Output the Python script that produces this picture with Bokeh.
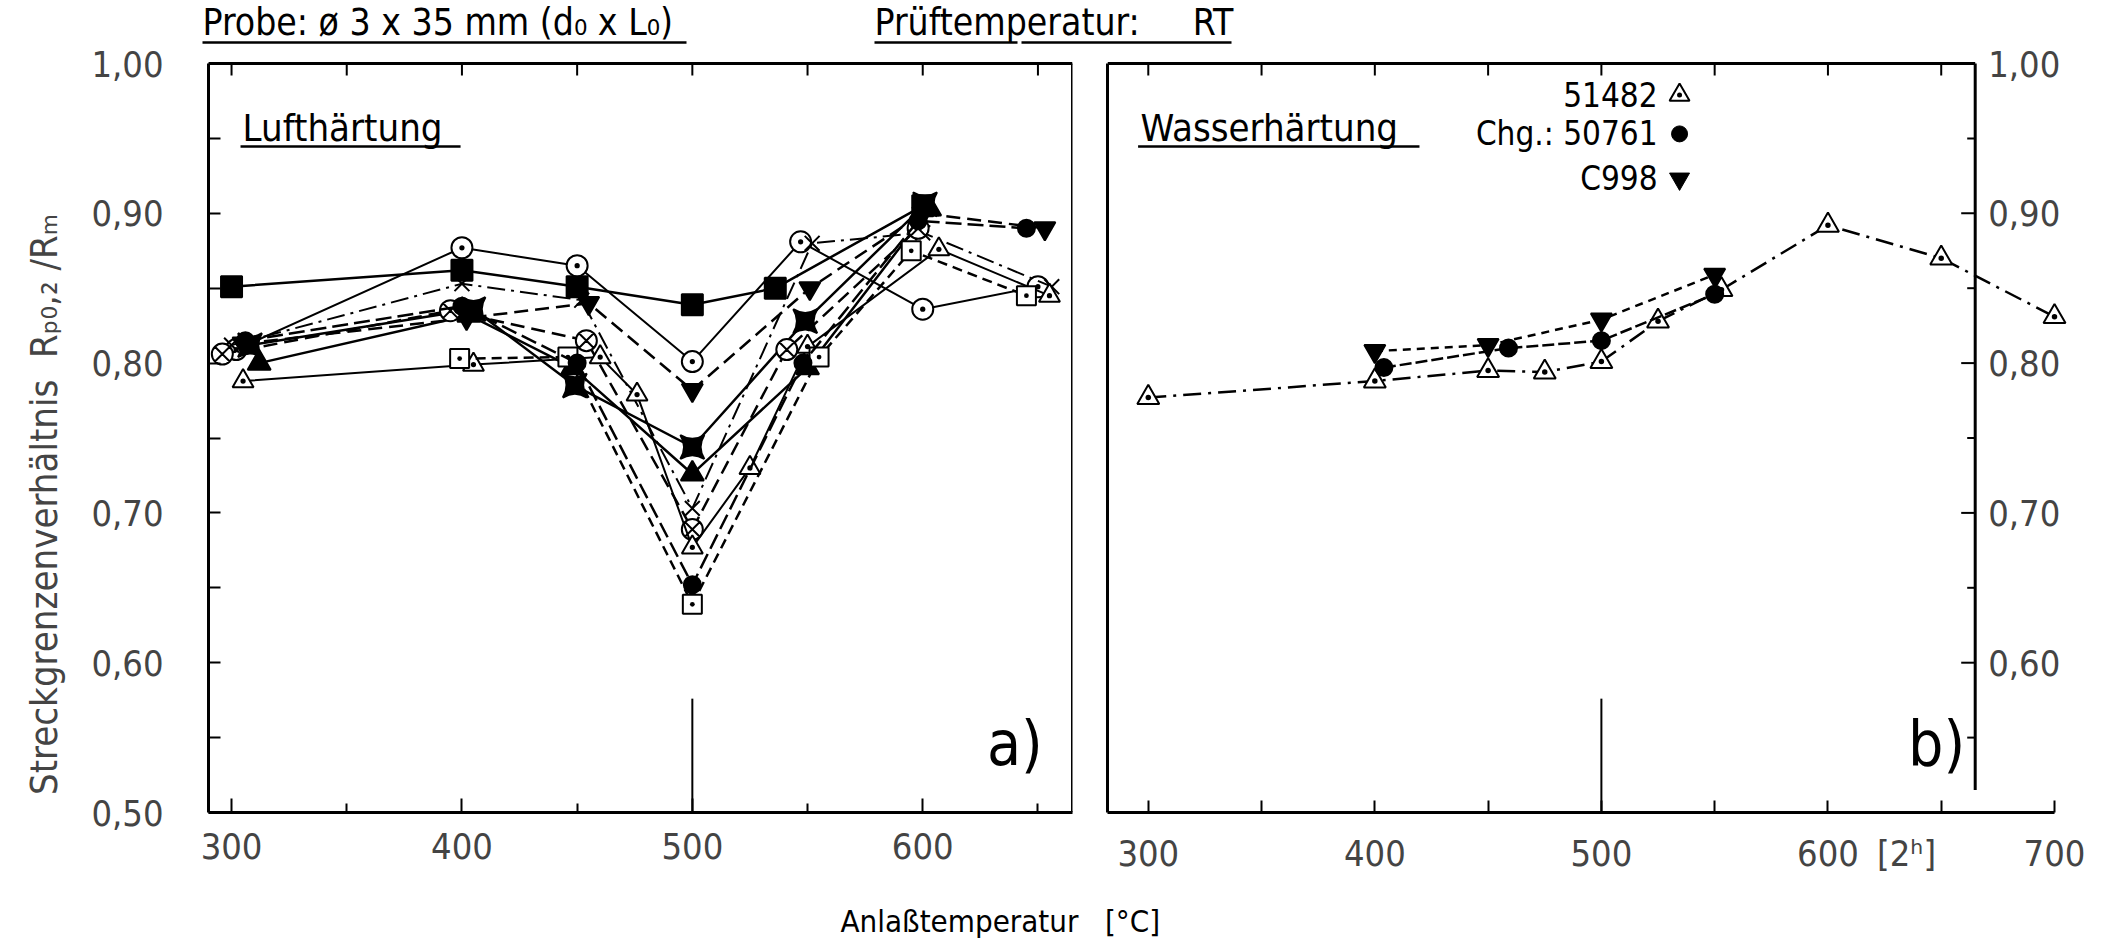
from bokeh.plotting import figure
from bokeh.layouts import column, row
from bokeh.models import (Range1d, LinearAxis, FixedTicker, CustomJSTickFormatter,
                          ColumnDataSource, LabelSet)
from bokeh.core.properties import value
from bokeh.embed import file_html
from bokeh.resources import INLINE

FONT = "DejaVu Sans Condensed, DejaVu Sans, sans-serif"
NB = "\u00a0"

# ---------------- data: a) Lufthaertung ----------------
a_sq_x = [300, 400, 450, 500, 536, 600]
a_sq_y = [0.851, 0.862, 0.851, 0.839, 0.850, 0.905]
a_cd_x = [302, 400, 450, 500, 547, 600, 650]
a_cd_y = [0.809, 0.877, 0.865, 0.801, 0.881, 0.836, 0.851]
a_xx_x = [300, 400, 452, 500, 552, 600, 656]
a_xx_y = [0.812, 0.853, 0.842, 0.703, 0.880, 0.887, 0.851]
a_it_x = [305, 402, 455, 500, 551, 600, 653]
a_it_y = [0.813, 0.830, 0.840, 0.782, 0.850, 0.900, 0.890]
a_bt_x = [308, 405, 449, 500, 549, 601]
a_bt_y = [0.812, 0.836, 0.785, 0.744, 0.828, 0.906]
a_tf_x = [312, 403, 448, 500, 550, 603]
a_tf_y = [0.800, 0.832, 0.797, 0.726, 0.797, 0.903]
a_cx_x = [296, 395, 454, 500, 541, 598]
a_cx_y = [0.806, 0.835, 0.815, 0.689, 0.809, 0.890]
a_tr_x = [305, 405, 460, 476, 500, 525, 550, 607, 655]
a_tr_y = [0.788, 0.799, 0.804, 0.779, 0.677, 0.730, 0.811, 0.876, 0.845]
a_sd_x = [399, 446, 500, 555, 595, 645]
a_sd_y = [0.803, 0.804, 0.639, 0.804, 0.875, 0.845]
a_fc_x = [306, 400, 450, 500, 548, 598, 645]
a_fc_y = [0.815, 0.838, 0.800, 0.652, 0.800, 0.895, 0.890]

# ---------------- data: b) Wasserhaertung ----------------
w_tr_x = [300, 400, 450, 475, 500, 525, 553, 600, 650, 700]
w_tr_y = [0.777, 0.788, 0.795, 0.794, 0.801, 0.828, 0.849, 0.892, 0.870, 0.831]
w_fc_x = [404, 459, 500, 550]
w_fc_y = [0.797, 0.810, 0.815, 0.846]
w_it_x = [400, 450, 500, 550]
w_it_y = [0.808, 0.812, 0.829, 0.859]

legend_labels = ["51482", "Chg.: 50761", "C998"]

x_major_a = [300, 400, 500, 600]
x_minor_a = [350, 450, 550, 650]
x_labels_b = [300, 400, 500, 600, 700]
x_marks_b = [300, 350, 400, 450, 500, 550, 600, 650, 700]
unit_label_b = "[2ʰ]"
unit_label_pos = 634.7
x_top = [300, 350, 400, 450, 500, 550, 600, 650]
y_major = [0.5, 0.6, 0.7, 0.8, 0.9, 1.0]
y_minor = [0.55, 0.65, 0.75, 0.85, 0.95]
r_tick_vals = [0.6, 0.7, 0.8, 0.9, 1.0]
r_tick_labels = ["0,60", "0,70", "0,80", "0,90", "1,00"]

# ---------------- layout constants ----------------
W = 2109
TOP_H = 44
BOT_H = 51
ROW_H = 941 - TOP_H - BOT_H
PX_Y = 1498.0                      # px per unit of the ratio
FRAME_BOTTOM = 812                 # page y of 0.50
MB_BOT = TOP_H + ROW_H - FRAME_BOTTOM
Y_END = 0.5 + (FRAME_BOTTOM - TOP_H) / PX_Y
A_W = 1076
B_W = W - A_W
B_MBL = 31
PX_XB = 947 / 418
B_XEND = 282 + (B_W - B_MBL) / PX_XB
TICK_IN = 12 / PX_Y

fmt = CustomJSTickFormatter(code="return tick.toFixed(2).replace('.', ',');")
fmt_b = CustomJSTickFormatter(
    args=dict(pos=unit_label_pos, lab=unit_label_b),
    code="return (Math.abs(tick - pos) < 0.01) ? lab : tick.toFixed(0);")


def base_fig(width, xr, mbl, mbr):
    p = figure(width=width, height=ROW_H, x_range=Range1d(*xr), y_range=Range1d(0.5, Y_END),
               x_axis_type=None, y_axis_type=None, output_backend="svg",
               toolbar_location=None, min_border_left=mbl, min_border_right=mbr,
               min_border_top=0, min_border_bottom=MB_BOT)
    p.background_fill_color = "white"
    p.border_fill_color = "white"
    p.outline_line_color = None
    return p


def series(p, xs, ys, marker, fill, dash, size=21, lw=2.5):
    p.line(xs, ys, line_color="black", line_width=lw, line_dash=dash)
    p.scatter(xs, ys, marker=marker, size=size, fill_color=fill, line_color="black",
              line_width=2)


def top_border(p, x0, x1):
    p.segment(x0=[x0], y0=[1.0], x1=[x1], y1=[1.0], line_color="black", line_width=3)
    p.segment(x0=x_top, y0=[1.0] * len(x_top), x1=x_top, y1=[1.0 - TICK_IN] * len(x_top),
              line_color="black", line_width=2)


# ---------------- panel a ----------------
A = base_fig(A_W, (290, 665), 208, 4)

axb = LinearAxis(ticker=FixedTicker(ticks=x_major_a, minor_ticks=x_minor_a),
                 major_tick_in=14, major_tick_out=0, minor_tick_in=9, minor_tick_out=0,
                 axis_line_width=3, major_tick_line_width=2, minor_tick_line_width=2,
                 major_label_text_font=FONT, major_label_text_font_size="36px",
                 major_label_standoff=20)
A.add_layout(axb, "below")
axl = LinearAxis(ticker=FixedTicker(ticks=y_major, minor_ticks=y_minor), formatter=fmt,
                 bounds=(0.5, 1.0),
                 major_tick_in=12, major_tick_out=0, minor_tick_in=12, minor_tick_out=0,
                 axis_line_width=3, major_tick_line_width=2, minor_tick_line_width=2,
                 major_label_text_font=FONT, major_label_text_font_size="36px",
                 major_label_standoff=45,
                 axis_label="Streckgrenzenverhältnis" + NB * 2 + "Rₚ₀,₂ /Rₘ" + NB * 14,
                 axis_label_text_font=FONT, axis_label_text_font_size="38px",
                 axis_label_text_font_style="normal", axis_label_standoff=22)
A.add_layout(axl, "left")
top_border(A, 290, 665)
A.segment(x0=[665], y0=[0.5], x1=[665], y1=[1.0], line_color="black", line_width=3)

A.segment(x0=[500], y0=[0.5], x1=[500], y1=[0.576], line_color="black", line_width=2)

series(A, a_sq_x, a_sq_y, "square", "black", "solid")
series(A, a_cd_x, a_cd_y, "circle_dot", "white", "solid", lw=2)
series(A, a_xx_x, a_xx_y, "x", "black", "18 6 3 6", lw=2)
series(A, a_it_x, a_it_y, "inverted_triangle", "black", "14 7")
series(A, a_bt_x, a_bt_y, "square_pin", "black", "solid", size=24)
series(A, a_tf_x, a_tf_y, "triangle", "black", "solid", size=23)
series(A, a_cx_x, a_cx_y, "circle_x", "white", "14 7")
series(A, a_tr_x, a_tr_y, "triangle_dot", "white", "solid", lw=2)
series(A, a_sd_x, a_sd_y, "square_dot", "white", "10 6", size=19)
series(A, a_fc_x, a_fc_y, "circle", "black", "16 6", size=17)

A.text(x=[304.8], y=[0.957], text=["Lufthärtung"], text_font=value(FONT),
       text_font_size="38px", text_baseline="middle", text_align="left")
A.segment(x0=[303.9], y0=[0.9446], x1=[399.4], y1=[0.9446], line_color="black",
          line_width=2.5)
A.text(x=[640], y=[0.546], text=["a)"], text_font=value(FONT), text_font_size="62px",
       text_baseline="middle", text_align="center")

# ---------------- panel b ----------------
B = base_fig(B_W, (282, B_XEND), B_MBL, 0)

bxb = LinearAxis(ticker=FixedTicker(ticks=x_labels_b + [unit_label_pos], minor_ticks=x_marks_b),
                 formatter=fmt_b, bounds=(282, 700),
                 major_tick_in=0, major_tick_out=0, minor_tick_in=12, minor_tick_out=0,
                 axis_line_width=3, minor_tick_line_width=2,
                 major_label_text_font=FONT, major_label_text_font_size="36px",
                 major_label_standoff=20)
B.add_layout(bxb, "below")
byl = LinearAxis(ticker=FixedTicker(ticks=[]), bounds=(0.5, 1.0), axis_line_width=3,
                 major_tick_out=0, major_label_standoff=0)
B.add_layout(byl, "left")

top_border(B, 282, 665)

# right-hand value axis of panel b, standing at 665
B.segment(x0=[665], y0=[0.515], x1=[665], y1=[1.0], line_color="black", line_width=3)
r_all = y_minor + r_tick_vals[:-1]
r_len = [8 / PX_XB] * len(y_minor) + [14 / PX_XB] * (len(r_tick_vals) - 1)
B.segment(x0=[665] * len(r_all), y0=r_all, x1=[665 - l for l in r_len], y1=r_all,
          line_color="black", line_width=2)
rsrc = ColumnDataSource(dict(x=[665] * len(r_tick_vals), y=r_tick_vals, t=r_tick_labels))
B.add_layout(LabelSet(x="x", y="y", text="t", source=rsrc, x_offset=13,
                      text_baseline="middle", text_align="left",
                      text_font=value(FONT), text_font_size="36px"))

B.segment(x0=[500], y0=[0.5], x1=[500], y1=[0.576], line_color="black", line_width=2)

series(B, w_tr_x, w_tr_y, "triangle_dot", "white", "18 7 3 7", size=22)
series(B, w_fc_x, w_fc_y, "circle", "black", "12 4", size=17)
series(B, w_it_x, w_it_y, "inverted_triangle", "black", "8 6", size=21)

B.text(x=[296.6], y=[0.957], text=["Wasserhärtung"], text_font=value(FONT),
       text_font_size="38px", text_baseline="middle", text_align="left")
B.segment(x0=[295.5], y0=[0.9446], x1=[419.7], y1=[0.9446], line_color="black",
          line_width=2.5)
B.text(x=[648], y=[0.546], text=["b)"], text_font=value(FONT), text_font_size="62px",
       text_baseline="middle", text_align="center")

leg_y = [0.979, 0.953, 0.923]
B.text(x=[524.8] * 3, y=leg_y, text=legend_labels, text_font=value(FONT),
       text_font_size="33px", text_baseline="middle", text_align="right")
B.scatter([534.5], [leg_y[0]], marker="triangle_dot", size=20, fill_color="white",
          line_color="black", line_width=2)
B.scatter([534.5], [leg_y[1]], marker="circle", size=16, fill_color="black",
          line_color="black")
B.scatter([534.5], [leg_y[2]], marker="inverted_triangle", size=20, fill_color="black",
          line_color="black")


# ---------------- strips for texts spanning both panels ----------------
def strip(h):
    p = figure(width=W, height=h, x_range=Range1d(0, W), y_range=Range1d(h, 0),
               x_axis_type=None, y_axis_type=None, output_backend="svg",
               toolbar_location=None, min_border=0)
    p.outline_line_color = None
    return p


T = strip(TOP_H)
T.text(x=[202, 874], y=[22, 22],
       text=["Probe: ø 3 x 35 mm (d₀ x L₀)", "Prüftemperatur:" + NB * 5 + "RT"],
       text_font=value(FONT), text_font_size="37px", text_baseline="middle",
       text_align="left")
T.segment(x0=[202, 874, 1021], y0=[42, 42, 42], x1=[686, 1017, 1231], y1=[42, 42, 42],
          line_color="black", line_width=2.5)

C = strip(BOT_H)
C.text(x=[840], y=[30], text=["Anlaßtemperatur" + NB * 3 + "[°C]"], text_font=value(FONT),
       text_font_size="31px", text_baseline="middle", text_align="left")

layout = column(T, row(A, B), C)
open("out.html", "w").write(file_html(layout, INLINE))
